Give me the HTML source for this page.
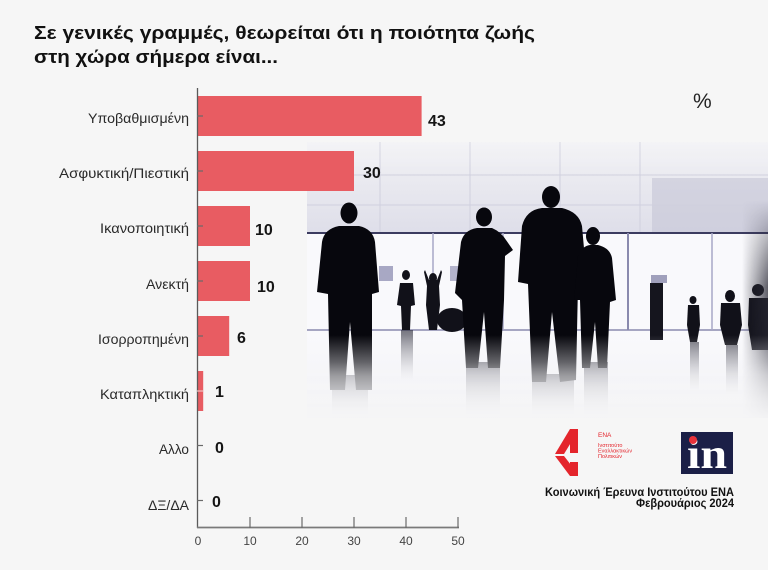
<!DOCTYPE html>
<html><head><meta charset="utf-8"><style>
html,body{margin:0;padding:0;background:#f6f6f6;}
svg{display:block;}
</style></head><body>
<svg width="768" height="570" viewBox="0 0 768 570" xmlns="http://www.w3.org/2000/svg" font-family="Liberation Sans, DejaVu Sans, sans-serif">
<defs>
  <linearGradient id="bgTop" x1="0" y1="0" x2="0" y2="1">
    <stop offset="0" stop-color="#f2f2f5"/>
    <stop offset="1" stop-color="#dedee9"/>
  </linearGradient>
  <linearGradient id="fadeV" x1="0" y1="142" x2="0" y2="418" gradientUnits="userSpaceOnUse">
    <stop offset="0" stop-color="#fff" stop-opacity="0.8"/>
    <stop offset="0.1" stop-color="#fff" stop-opacity="1"/>
    <stop offset="0.8" stop-color="#fff" stop-opacity="1"/>
    <stop offset="1" stop-color="#fff" stop-opacity="0.6"/>
  </linearGradient>
  <linearGradient id="fadeBottom" x1="0" y1="335" x2="0" y2="418" gradientUnits="userSpaceOnUse">
    <stop offset="0" stop-color="#f4f4f7" stop-opacity="0"/>
    <stop offset="0.5" stop-color="#f2f2f5" stop-opacity="0.6"/>
    <stop offset="1" stop-color="#f4f4f6" stop-opacity="0.95"/>
  </linearGradient>
  <linearGradient id="vigR" x1="742" y1="0" x2="768" y2="0" gradientUnits="userSpaceOnUse">
    <stop offset="0" stop-color="#2a2a36" stop-opacity="0"/>
    <stop offset="1" stop-color="#2a2a36" stop-opacity="0.75"/>
  </linearGradient>
  <linearGradient id="vigRV" x1="0" y1="200" x2="0" y2="418" gradientUnits="userSpaceOnUse">
    <stop offset="0" stop-color="#fff" stop-opacity="0"/>
    <stop offset="0.4" stop-color="#fff" stop-opacity="1"/>
    <stop offset="1" stop-color="#fff" stop-opacity="0.6"/>
  </linearGradient>
  <mask id="vigMask"><rect x="700" y="142" width="68" height="276" fill="url(#vigRV)"/></mask>
  <linearGradient id="refl" x1="0" y1="0" x2="0" y2="1">
    <stop offset="0" stop-color="#20202e" stop-opacity="0.6"/>
    <stop offset="1" stop-color="#20202e" stop-opacity="0"/>
  </linearGradient>
  <clipPath id="photoClip"><rect x="307" y="142" width="461" height="276"/></clipPath>
  <mask id="photoMask"><rect x="307" y="142" width="461" height="276" fill="url(#fadeV)"/></mask>
</defs>

<rect width="768" height="570" fill="#f6f6f6"/>

<!-- Title -->
<text x="34" y="39" font-size="18.5" font-weight="bold" fill="#111" textLength="501" lengthAdjust="spacingAndGlyphs">Σε γενικές γραμμές, θεωρείται ότι η ποιότητα ζωής</text>
<text x="34" y="63" font-size="18.5" font-weight="bold" fill="#111" textLength="244" lengthAdjust="spacingAndGlyphs">στη χώρα σήμερα είναι...</text>

<!-- Photo -->
<g clip-path="url(#photoClip)" mask="url(#photoMask)">
  <rect x="307" y="142" width="461" height="92" fill="url(#bgTop)"/>
  <rect x="652" y="178" width="116" height="55" fill="#c4c4d6" opacity="0.6"/>
  <g stroke="#d0d0de" stroke-width="1">
    <line x1="307" y1="175" x2="768" y2="175"/>
    <line x1="307" y1="205" x2="768" y2="205"/>
    <line x1="380" y1="142" x2="380" y2="233"/>
    <line x1="470" y1="142" x2="470" y2="233"/>
    <line x1="560" y1="142" x2="560" y2="233"/>
    <line x1="640" y1="142" x2="640" y2="233"/>
  </g>
  <rect x="307" y="233" width="461" height="185" fill="#f9f9fc"/>
  <line x1="307" y1="233" x2="768" y2="233" stroke="#3c3c60" stroke-width="2"/>
  <line x1="307" y1="330" x2="768" y2="330" stroke="#8a8aae" stroke-width="1.5"/>
  <line x1="433" y1="233" x2="433" y2="330" stroke="#a8a8c6" stroke-width="1.5"/>
  <line x1="503" y1="233" x2="503" y2="330" stroke="#a8a8c6" stroke-width="1.5"/>
  <line x1="628" y1="233" x2="628" y2="330" stroke="#8a8aae" stroke-width="2"/>
  <line x1="712" y1="233" x2="712" y2="330" stroke="#a8a8c6" stroke-width="1.5"/>
  <rect x="379" y="266" width="14" height="15" fill="#a8a8c4"/>
  <rect x="450" y="266" width="12" height="15" fill="#b4b4cc"/>
  <rect x="651" y="275" width="16" height="8" fill="#a0a0bc"/>
  <rect x="650" y="283" width="13" height="57" fill="#15151e"/>
  <!-- reflections -->
  <rect x="332" y="375" width="36" height="43" fill="url(#refl)"/>
  <rect x="466" y="362" width="34" height="56" fill="url(#refl)"/>
  <rect x="532" y="374" width="42" height="44" fill="url(#refl)"/>
  <rect x="584" y="362" width="24" height="56" fill="url(#refl)"/>
  <rect x="401" y="330" width="12" height="50" fill="url(#refl)"/>
  <rect x="690" y="342" width="9" height="50" fill="url(#refl)"/>
  <rect x="726" y="345" width="12" height="50" fill="url(#refl)"/>
  <!-- small figures -->
  <g fill="#111119">
    <ellipse cx="406" cy="275" rx="4" ry="5"/>
    <path d="M400,283 L413,283 L415,305 L411,306 L410,330 L402,330 L401,306 L397,305 Z"/>
    <ellipse cx="433" cy="278" rx="4" ry="5"/>
    <path d="M425,270 L429,280 L437,280 L441,270 L442,272 L439,286 L440,305 L437,330 L429,330 L426,305 L427,286 L424,272 Z"/>
    <ellipse cx="452" cy="320" rx="15" ry="12"/>
    <ellipse cx="693" cy="300" rx="3.5" ry="4"/>
    <path d="M688,305 L699,305 L700,325 L697,342 L690,342 L687,325 Z"/>
    <ellipse cx="730" cy="296" rx="5" ry="6"/>
    <path d="M721,303 L740,303 L742,325 L737,345 L725,345 L720,325 Z"/>
    <ellipse cx="758" cy="290" rx="6" ry="6"/>
    <path d="M749,298 L768,298 L768,350 L752,350 L748,325 Z"/>
  </g>
  <!-- big figures -->
  <g fill="#07070d">
    <ellipse cx="349" cy="213" rx="8.5" ry="10.5"/>
    <path d="M322,242 Q324,229 339,226 L359,226 Q373,229 375,242 L379,292 L372,294 L372,390 L356,390 L350,322 L345,390 L330,390 L328,294 L317,292 Z"/>
    <ellipse cx="484" cy="217" rx="8" ry="9.5"/>
    <path d="M461,242 Q464,230 477,228 L492,228 Q501,232 506,240 L513,250 L505,256 L504,300 L500,368 L488,368 L484,312 L478,368 L466,368 L462,300 L455,293 Z"/>
    <ellipse cx="551" cy="197" rx="9" ry="11"/>
    <path d="M522,226 Q526,210 542,208 L562,208 Q579,212 582,226 L587,282 L578,284 L576,380 L560,382 L552,312 L546,382 L532,382 L528,284 L518,282 Z"/>
    <ellipse cx="593" cy="236" rx="7" ry="9"/>
    <path d="M578,256 Q582,246 590,245 L598,245 Q610,248 612,258 L616,300 L610,302 L607,368 L598,368 L595,322 L590,368 L582,368 L580,300 L574,300 Z"/>
  </g>
  <rect x="740" y="142" width="28" height="276" fill="url(#vigR)" mask="url(#vigMask)"/>
  <rect x="307" y="335" width="461" height="83" fill="url(#fadeBottom)"/>
</g>

<!-- Bars -->
<g fill="#e85c62">
  <rect x="198" y="96" width="223.6" height="40"/>
  <rect x="198" y="151" width="156" height="40"/>
  <rect x="198" y="206" width="52" height="40"/>
  <rect x="198" y="261" width="52" height="40"/>
  <rect x="198" y="316" width="31.2" height="40"/>
  <rect x="198" y="371" width="5.2" height="40"/>
</g>

<!-- Axes -->
<line x1="197.5" y1="88" x2="197.5" y2="528" stroke="#5a5a5a" stroke-width="1.3"/>
<line x1="197" y1="527.5" x2="459" y2="527.5" stroke="#7a7a7a" stroke-width="1.8"/>
<g stroke="#6a6a6a" stroke-width="1.2">
  <line x1="197" y1="116" x2="203" y2="116"/>
  <line x1="197" y1="171" x2="203" y2="171"/>
  <line x1="197" y1="226" x2="203" y2="226"/>
  <line x1="197" y1="281" x2="203" y2="281"/>
  <line x1="197" y1="336" x2="203" y2="336"/>
  <line x1="197" y1="391" x2="203" y2="391" stroke="#f0c0c0"/>
  <line x1="197" y1="445.5" x2="203" y2="445.5"/>
  <line x1="197" y1="500.5" x2="203" y2="500.5"/>
  <line x1="250" y1="517" x2="250" y2="528"/>
  <line x1="302" y1="517" x2="302" y2="528"/>
  <line x1="354" y1="517" x2="354" y2="528"/>
  <line x1="406" y1="517" x2="406" y2="528"/>
  <line x1="458" y1="517" x2="458" y2="528"/>
</g>
<g font-size="12" fill="#444" text-anchor="middle">
  <text x="198" y="545">0</text>
  <text x="250" y="545">10</text>
  <text x="302" y="545">20</text>
  <text x="354" y="545">30</text>
  <text x="406" y="545">40</text>
  <text x="458" y="545">50</text>
</g>

<!-- Category labels -->
<g font-size="14" fill="#2a2a2a" text-anchor="end">
  <text x="189" y="123" textLength="101" lengthAdjust="spacingAndGlyphs">Υποβαθμισμένη</text>
  <text x="189" y="178" textLength="130" lengthAdjust="spacingAndGlyphs">Ασφυκτική/Πιεστική</text>
  <text x="189" y="233" textLength="89" lengthAdjust="spacingAndGlyphs">Ικανοποιητική</text>
  <text x="189" y="289" textLength="43" lengthAdjust="spacingAndGlyphs">Ανεκτή</text>
  <text x="189" y="344" textLength="91" lengthAdjust="spacingAndGlyphs">Ισορροπημένη</text>
  <text x="189" y="399" textLength="89" lengthAdjust="spacingAndGlyphs">Καταπληκτική</text>
  <text x="189" y="454" textLength="30" lengthAdjust="spacingAndGlyphs">Αλλο</text>
  <text x="189" y="510" textLength="41" lengthAdjust="spacingAndGlyphs">ΔΞ/ΔΑ</text>
</g>

<!-- Value labels -->
<g font-size="16" font-weight="bold" fill="#151515">
  <text x="428" y="126">43</text>
  <text x="363" y="178">30</text>
  <text x="255" y="235">10</text>
  <text x="257" y="292">10</text>
  <text x="237" y="343">6</text>
  <text x="215" y="397">1</text>
  <text x="215" y="453">0</text>
  <text x="212" y="507">0</text>
</g>

<text x="693" y="108" font-size="21" fill="#222">%</text>

<!-- ENA logo -->
<g fill="#e4252c">
  <rect x="570" y="429" width="8" height="24"/>
  <polygon points="570,429 578,431 564,454 555,454"/>
  <polygon points="555,456 564,456 578,474 570,476"/>
  <rect x="570" y="462" width="8" height="14"/>
</g>
<g fill="#e4252c" font-size="5.5">
  <text x="598" y="437" font-size="6.5">ΕΝΑ</text>
  <text x="598" y="447">Ινστιτούτο</text>
  <text x="598" y="452.5">Εναλλακτικών</text>
  <text x="598" y="458">Πολιτικών</text>
</g>

<!-- in logo -->
<rect x="681" y="432" width="52" height="42" fill="#1b1f47"/>
<text x="687" y="468" style="font-family:'Liberation Serif','DejaVu Serif',serif;font-weight:bold;" font-size="42" fill="#fff" textLength="40" lengthAdjust="spacingAndGlyphs">in</text>
<circle cx="693" cy="440" r="4" fill="#e8323a"/>

<!-- Footer -->
<text x="734" y="496" font-size="11.5" font-weight="bold" fill="#111" text-anchor="end" textLength="189" lengthAdjust="spacingAndGlyphs">Κοινωνική Έρευνα Ινστιτούτου ΕΝΑ</text>
<text x="734" y="507" font-size="11.5" font-weight="bold" fill="#111" text-anchor="end" textLength="98" lengthAdjust="spacingAndGlyphs">Φεβρουάριος 2024</text>
</svg>
</body></html>
